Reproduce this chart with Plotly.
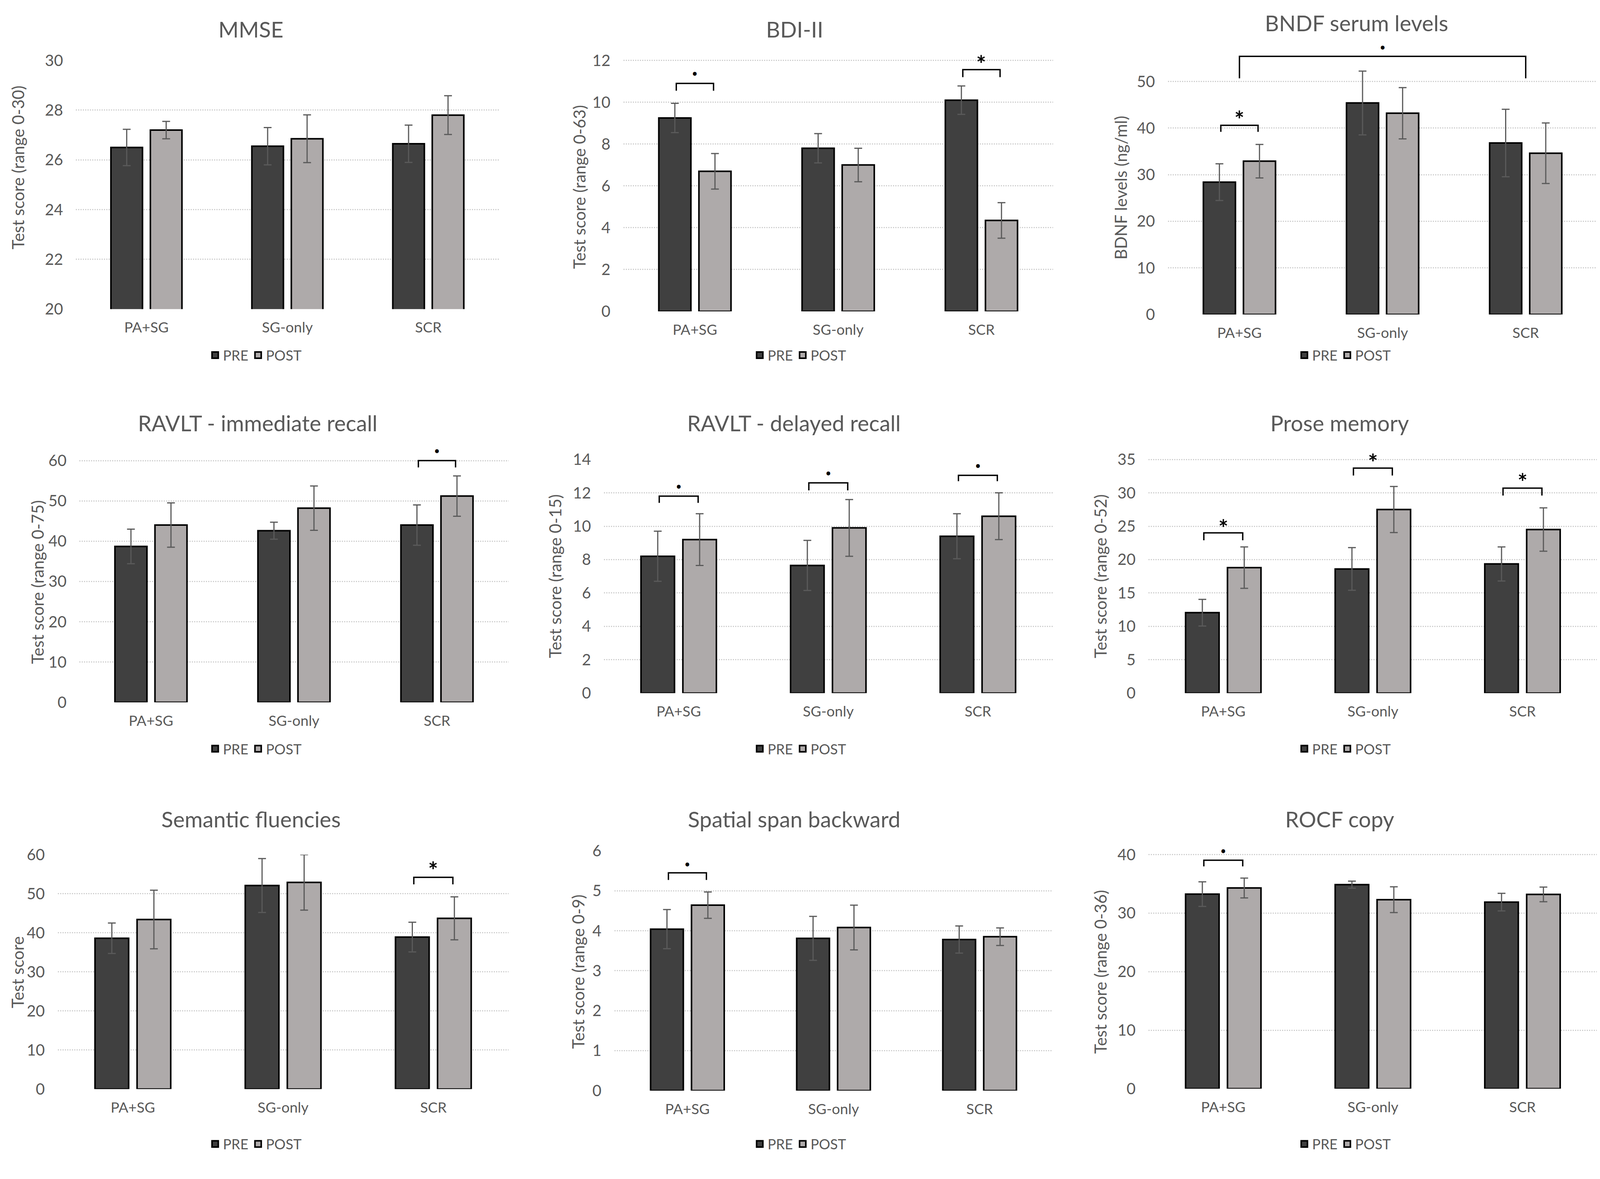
import plotly.graph_objects as go

# groups on the x axis of every panel
groups = ["PA+SG", "SG-only", "SCR"]

titles = ["MMSE", "BDI-II", "BNDF serum levels",
          "RAVLT - immediate recall", "RAVLT - delayed recall", "Prose memory",
          "Semantic fluencies", "Spatial span backward", "ROCF copy"]
ytitles = ["Test score (range 0-30)", "Test score (range 0-63)", "BDNF levels (ng/ml)",
           "Test score (range 0-75)", "Test score (range 0-15)", "Test score (range 0-52)",
           "Test score", "Test score (range 0-9)", "Test score (range 0-36)"]

# mean and error per group (PA+SG, SG-only, SCR)
mmse_pre = [26.5, 26.55, 26.65]
mmse_pre_err = [0.73, 0.75, 0.75]
mmse_post = [27.2, 26.85, 27.8]
mmse_post_err = [0.35, 0.96, 0.78]

bdi_pre = [9.25, 7.8, 10.1]
bdi_pre_err = [0.7, 0.7, 0.68]
bdi_post = [6.7, 7.0, 4.35]
bdi_post_err = [0.85, 0.8, 0.85]

bdnf_pre = [28.4, 45.4, 36.8]
bdnf_pre_err = [3.95, 6.85, 7.25]
bdnf_post = [32.9, 43.2, 34.6]
bdnf_post_err = [3.6, 5.5, 6.5]

ravlt_i_pre = [38.7, 42.6, 44.0]
ravlt_i_pre_err = [4.3, 2.1, 5.0]
ravlt_i_post = [44.0, 48.2, 51.2]
ravlt_i_post_err = [5.5, 5.5, 5.0]

ravlt_d_pre = [8.2, 7.65, 9.4]
ravlt_d_pre_err = [1.5, 1.5, 1.35]
ravlt_d_post = [9.2, 9.9, 10.6]
ravlt_d_post_err = [1.55, 1.7, 1.4]

prose_pre = [12.05, 18.6, 19.35]
prose_pre_err = [2.0, 3.2, 2.55]
prose_post = [18.8, 27.5, 24.5]
prose_post_err = [3.1, 3.45, 3.25]

sem_pre = [38.6, 52.1, 38.9]
sem_pre_err = [3.9, 6.9, 3.8]
sem_post = [43.4, 52.9, 43.7]
sem_post_err = [7.5, 7.1, 5.5]

span_pre = [4.04, 3.81, 3.78]
span_pre_err = [0.49, 0.55, 0.34]
span_post = [4.64, 4.08, 3.85]
span_post_err = [0.33, 0.56, 0.22]

rocf_pre = [33.25, 34.87, 31.88]
rocf_pre_err = [2.1, 0.6, 1.5]
rocf_post = [34.3, 32.3, 33.2]
rocf_post_err = [1.7, 2.2, 1.25]

pre = [mmse_pre, bdi_pre, bdnf_pre, ravlt_i_pre, ravlt_d_pre, prose_pre, sem_pre, span_pre, rocf_pre]
pre_err = [mmse_pre_err, bdi_pre_err, bdnf_pre_err, ravlt_i_pre_err, ravlt_d_pre_err,
           prose_pre_err, sem_pre_err, span_pre_err, rocf_pre_err]
post = [mmse_post, bdi_post, bdnf_post, ravlt_i_post, ravlt_d_post, prose_post, sem_post, span_post, rocf_post]
post_err = [mmse_post_err, bdi_post_err, bdnf_post_err, ravlt_i_post_err, ravlt_d_post_err,
            prose_post_err, sem_post_err, span_post_err, rocf_post_err]

# y axis ticks of each panel
yticks = [[20, 22, 24, 26, 28, 30], [0, 2, 4, 6, 8, 10, 12], [0, 10, 20, 30, 40, 50],
          [0, 10, 20, 30, 40, 50, 60], [0, 2, 4, 6, 8, 10, 12, 14], [0, 5, 10, 15, 20, 25, 30, 35],
          [0, 10, 20, 30, 40, 50, 60], [0, 1, 2, 3, 4, 5, 6], [0, 10, 20, 30, 40]]
# axis tops, a bit above the last tick where a significance mark sits there
ytop = [30, 12.3, 58, 63, 14, 35.8, 60, 6, 41]

# significance brackets: panel, from group, to group, top, leg end, mark, mark height
sig_panel = [1, 1, 2, 2, 3, 4, 4, 4, 5, 5, 5, 6, 7, 8]
sig_from = ["PA+SG", "SCR", "PA+SG", "PA+SG", "SCR", "PA+SG", "SG-only", "SCR",
            "PA+SG", "SG-only", "SCR", "SCR", "PA+SG", "PA+SG"]
sig_to = ["PA+SG", "SCR", "PA+SG", "SCR", "SCR", "PA+SG", "SG-only", "SCR",
          "PA+SG", "SG-only", "SCR", "SCR", "PA+SG", "PA+SG"]
sig_top = [10.9, 11.56, 40.6, 55.4, 60.0, 11.8, 12.6, 13.05, 24.0, 33.7, 30.7, 54.2, 5.45, 39.05]
sig_leg = [10.55, 11.2, 39.2, 50.7, 58.3, 11.4, 12.15, 12.7, 22.9, 32.6, 29.6, 52.4, 5.27, 38.0]
sig_mark = ["•", "*", "*", "•", "•", "•", "•", "•", "*", "*", "*", "*", "•", "•"]
sig_mark_y = [11.4, 12.1, 43.1, 57.4, 62.5, 12.4, 13.2, 13.65, 25.6, 35.4, 32.5, 57.5, 5.68, 40.7]

W, H = 4152, 3018
FONT = "Lato"
GREY_TXT = "#595959"
PRE_COL = "#404040"
POST_COL = "#AEAAAA"


def px(x):
    return (0.993 * x - 29) / W


def py(y):
    return 1 - (0.998 * y - 34) / H


# plot boxes in pixels: left, right, pixel of first tick, pixel of last tick
boxes = [(217, 1307, 806, 158), (1628, 2736, 812, 158), (3032, 4139, 820, 213),
         (226, 1332, 1831, 1201), (1578, 2735, 1807, 1198), (2982, 4139, 1807, 1198),
         (170, 1332, 2839, 2228), (1605, 2735, 2843, 2218), (2982, 4139, 2838, 2228)]
title_pos = [(668, 76), (2070, 76), (3518, 60), (685, 1103), (2068, 1103), (3475, 1103),
             (668, 2135), (2068, 2135), (3475, 2135)]
ytitle_pos = [(67, 437), (1514, 488), (2910, 490), (118, 1518), (1452, 1502), (2858, 1502),
              (67, 2535), (1512, 2533), (2858, 2533)]
legend_x = [680, 2084, 3488]
legend_y = [926, 1952, 2982]

xs = [0, 1, 2]
offset = 0.13

fig = go.Figure()
annotations = []

for i in range(9):
    sfx = "" if i == 0 else str(i + 1)
    xa, ya = "x" + sfx, "y" + sfx
    leg = "legend" + sfx
    for name, vals, errs, col in [("PRE", pre[i], pre_err[i], PRE_COL),
                                  ("POST", post[i], post_err[i], POST_COL)]:
        fig.add_trace(go.Bar(
            x=xs, y=vals, name=name, xaxis=xa, yaxis=ya, showlegend=False,
            marker=dict(color=col, line=dict(color="black", width=4)),
            error_y=dict(type="data", array=errs, color="#5a5a5a", thickness=3, width=10),
        ))
        # legend entry with a larger square key
        fig.add_trace(go.Scatter(
            x=[None], y=[None], name=name, xaxis=xa, yaxis=ya, legend=leg, mode="markers",
            marker=dict(symbol="square", size=16, color=col, line=dict(color="black", width=4)),
        ))

    l, r, b_px, t_px = boxes[i]
    lo, hi = yticks[i][0], yticks[i][-1]
    unit = (b_px - t_px) / (hi - lo)
    top_px = b_px - (ytop[i] - lo) * unit
    fig.layout["xaxis" + sfx] = dict(
        domain=[px(l), px(r)], anchor=ya, range=[-0.5, 2.5],
        tickvals=xs, ticktext=groups, showgrid=False, zeroline=False, showline=False,
        ticks="", ticklabelstandoff=22, tickfont=dict(family=FONT, size=37, color=GREY_TXT),
    )
    fig.layout["yaxis" + sfx] = dict(
        domain=[py(b_px), py(top_px)], anchor=xa,
        range=[lo, ytop[i]], tickvals=yticks[i],
        showgrid=True, gridcolor="#CFCFCF", griddash="dot", gridwidth=3,
        zeroline=False, showline=False, ticks="", ticklabelstandoff=32,
        tickfont=dict(family=FONT, size=40, color=GREY_TXT),
    )
    row, col = divmod(i, 3)
    fig.layout[leg] = dict(
        x=px(legend_x[col]), y=py(legend_y[row]), xanchor="center", yanchor="middle",
        orientation="h", bgcolor="rgba(0,0,0,0)", itemwidth=30,
        font=dict(family=FONT, size=36, color=GREY_TXT),
    )
    tx, ty = title_pos[i]
    annotations.append(dict(
        text=titles[i], x=px(tx), y=py(ty), xref="paper", yref="paper",
        xanchor="center", yanchor="middle", showarrow=False,
        font=dict(family=FONT, size=56, color=GREY_TXT),
    ))
    yx, yy = ytitle_pos[i]
    annotations.append(dict(
        text=ytitles[i], x=px(yx), y=py(yy), xref="paper", yref="paper",
        xanchor="center", yanchor="middle", textangle=-90, showarrow=False,
        font=dict(family=FONT, size=42, color=GREY_TXT),
    ))

# significance brackets
for k in range(len(sig_panel)):
    p = sig_panel[k]
    sfx = "" if p == 0 else str(p + 1)
    g0, g1 = groups.index(sig_from[k]), groups.index(sig_to[k])
    if g0 == g1:
        x0, x1 = g0 - offset, g1 + offset
    else:
        x0, x1 = g0, g1
    fig.add_trace(go.Scatter(
        x=[x0, x0, x1, x1], y=[sig_leg[k], sig_top[k], sig_top[k], sig_leg[k]],
        mode="lines", line=dict(color="black", width=3.5), showlegend=False,
        hoverinfo="skip", xaxis="x" + sfx, yaxis="y" + sfx,
    ))
    star = sig_mark[k] == "*"
    annotations.append(dict(
        text="<b>*</b>" if star else "•", x=(x0 + x1) / 2, y=sig_mark_y[k],
        xref="x" + sfx, yref="y" + sfx, showarrow=False, xanchor="center", yanchor="middle",
        yshift=-14 if star else 0,
        font=dict(family=FONT, size=60 if star else 26, color="black"),
    ))

fig.update_layout(
    width=W, height=H, margin=dict(l=0, r=0, t=0, b=0),
    paper_bgcolor="white", plot_bgcolor="white",
    barmode="group", bargap=0.44, bargroupgap=0.2,
    annotations=annotations,
)

fig.write_html("out.html")
